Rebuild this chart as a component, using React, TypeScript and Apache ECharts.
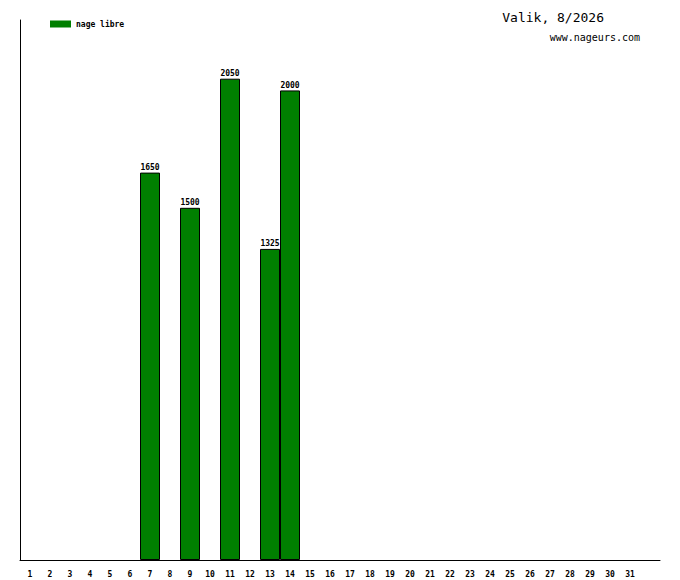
import * as echarts from 'echarts';
import { useEffect, useRef } from 'react';

const days = Array.from({ length: 31 }, (_, i) => String(i + 1));
const categories = [...days, ''];
const seriesName = 'nage libre';
const distances: (number | null)[] = [
  null, null, null, null, null, null, 1650, null, 1500, null,
  2050, null, 1325, 2000, null, null, null, null, null, null,
  null, null, null, null, null, null, null, null, null, null,
  null, null,
];
const yMax = 2300;
const titleText = 'Valik, 8/2026';
const siteText = 'www.nageurs.com';

const mono = 'DejaVu Sans Mono';

const App: React.FC = () => {
  const chartRef = useRef<HTMLDivElement>(null);

  useEffect(() => {
    if (!chartRef.current) return;
    const chart = echarts.init(chartRef.current, null, { renderer: 'svg' });
    chart.setOption({
      animation: false,
      backgroundColor: '#ffffff',
      grid: { left: 20, right: 20, top: 20, bottom: 20, containLabel: false },
      legend: {
        left: 50,
        top: 20,
        padding: 0,
        itemWidth: 21,
        itemHeight: 7,
        icon: 'rect',
        data: [seriesName],
        itemStyle: { borderWidth: 0 },
        textStyle: { fontFamily: mono, fontSize: 8, fontWeight: 'bold', color: '#000' },
      },
      graphic: [
        {
          type: 'text',
          right: 76,
          top: 11,
          style: { text: titleText, font: `13px "${mono}"`, fill: '#000' },
        },
        {
          type: 'text',
          right: 40,
          top: 32,
          style: { text: siteText, font: `10px "${mono}"`, fill: '#000' },
        },
      ],
      xAxis: {
        type: 'category',
        data: categories,
        axisLine: { lineStyle: { color: '#000', width: 1 } },
        axisTick: { show: false },
        axisLabel: {
          interval: 0,
          margin: 10,
          fontFamily: mono,
          fontSize: 8,
          fontWeight: 'bold',
          color: '#000',
        },
        splitLine: { show: false },
      },
      yAxis: {
        type: 'value',
        min: 0,
        max: yMax,
        axisLine: { show: true, lineStyle: { color: '#000', width: 1 } },
        axisTick: { show: false },
        axisLabel: { show: false },
        splitLine: { show: false },
      },
      series: [
        {
          name: seriesName,
          type: 'bar',
          data: distances,
          barWidth: 20,
          barGap: '0%',
          barCategoryGap: '0%',
          itemStyle: { color: '#007f00', borderColor: '#000', borderWidth: 1 },
          label: {
            show: true,
            position: 'top',
            distance: 1,
            fontFamily: mono,
            fontSize: 8,
            fontWeight: 'bold',
            color: '#000',
          },
        },
      ],
    });
    return () => {
      if (!chart.isDisposed()) chart.dispose();
    };
  }, []);

  return (
    <div
      ref={chartRef}
      style={{ position: 'absolute', left: 0, top: 0, width: '680px', height: '580px' }}
    />
  );
};

export default App;
